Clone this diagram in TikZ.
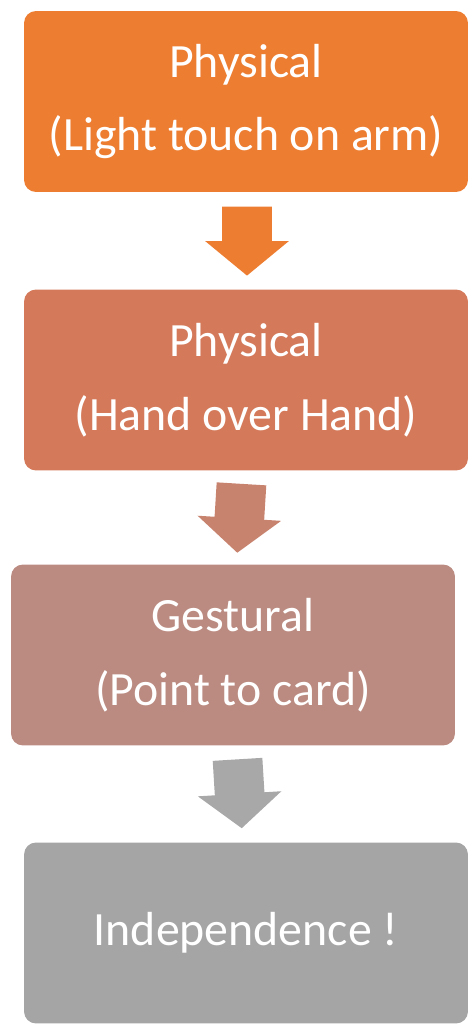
\documentclass[tikz,border=0pt]{standalone}
\usepackage{fontspec}
\setmainfont{Carlito}
\usetikzlibrary{positioning}
\usetikzlibrary{calc}
\usetikzlibrary{shapes.arrows}
\usepackage{xcolor}

\definecolor{promptA}{HTML}{ED7D31}
\definecolor{promptB}{HTML}{D47A5A}
\definecolor{promptC}{HTML}{BB8B81}
\definecolor{promptD}{HTML}{A5A5A5}
\definecolor{arrowB}{HTML}{C8836F}
\definecolor{arrowC}{HTML}{A8A8A8}

\tikzset{
  level/.style={rectangle, rounded corners=0.24cm, minimum width=8.88cm,
    minimum height=3.62cm, text=white, align=center,
    font=\fontsize{27.2}{42}\selectfont},
  downarrow/.style={single arrow, inner xsep=0pt, inner ysep=0.49cm,
    single arrow head extend=0.34cm, single arrow tip angle=101,
    minimum height=1.38cm, anchor=tail},
}

\begin{document}
\begin{tikzpicture}[x=0.02cm,y=0.02cm]
%% \draw[help lines] (0,0) grid (475,-1031);
\useasboundingbox (0,0) rectangle (475,-1031);

\node[level, fill=promptA] (phys1) at (246,-101.5) {Physical\\(Light touch on arm)};
\node[level, fill=promptB] (phys2) at (246,-380) {Physical\\(Hand over Hand)};
\node[level, fill=promptC] (gest) at (233,-655) {Gestural\\(Point to card)};
\node[level, fill=promptD] (indep) at (246,-933) {Independence !};

%% arrows start just under the upper box
\coordinate (m1) at ($(phys1.south)!0.5!(phys2.north)$);
\coordinate (m2) at ($(phys2.south)!0.5!(gest.north)$);
\coordinate (m3) at ($(gest.south)!0.5!(indep.north)$);
\node[downarrow, fill=promptA, rotate=-90] (a1) at ([shift={(1,34.5)}]m1) {};
\node[downarrow, fill=arrowB, rotate=-93.5] (a2) at ([shift={(2,34)}]m2) {};
\node[downarrow, fill=arrowC, rotate=-86.5] (a3) at ([shift={(-2,35)}]m3) {};
\end{tikzpicture}
\end{document}
